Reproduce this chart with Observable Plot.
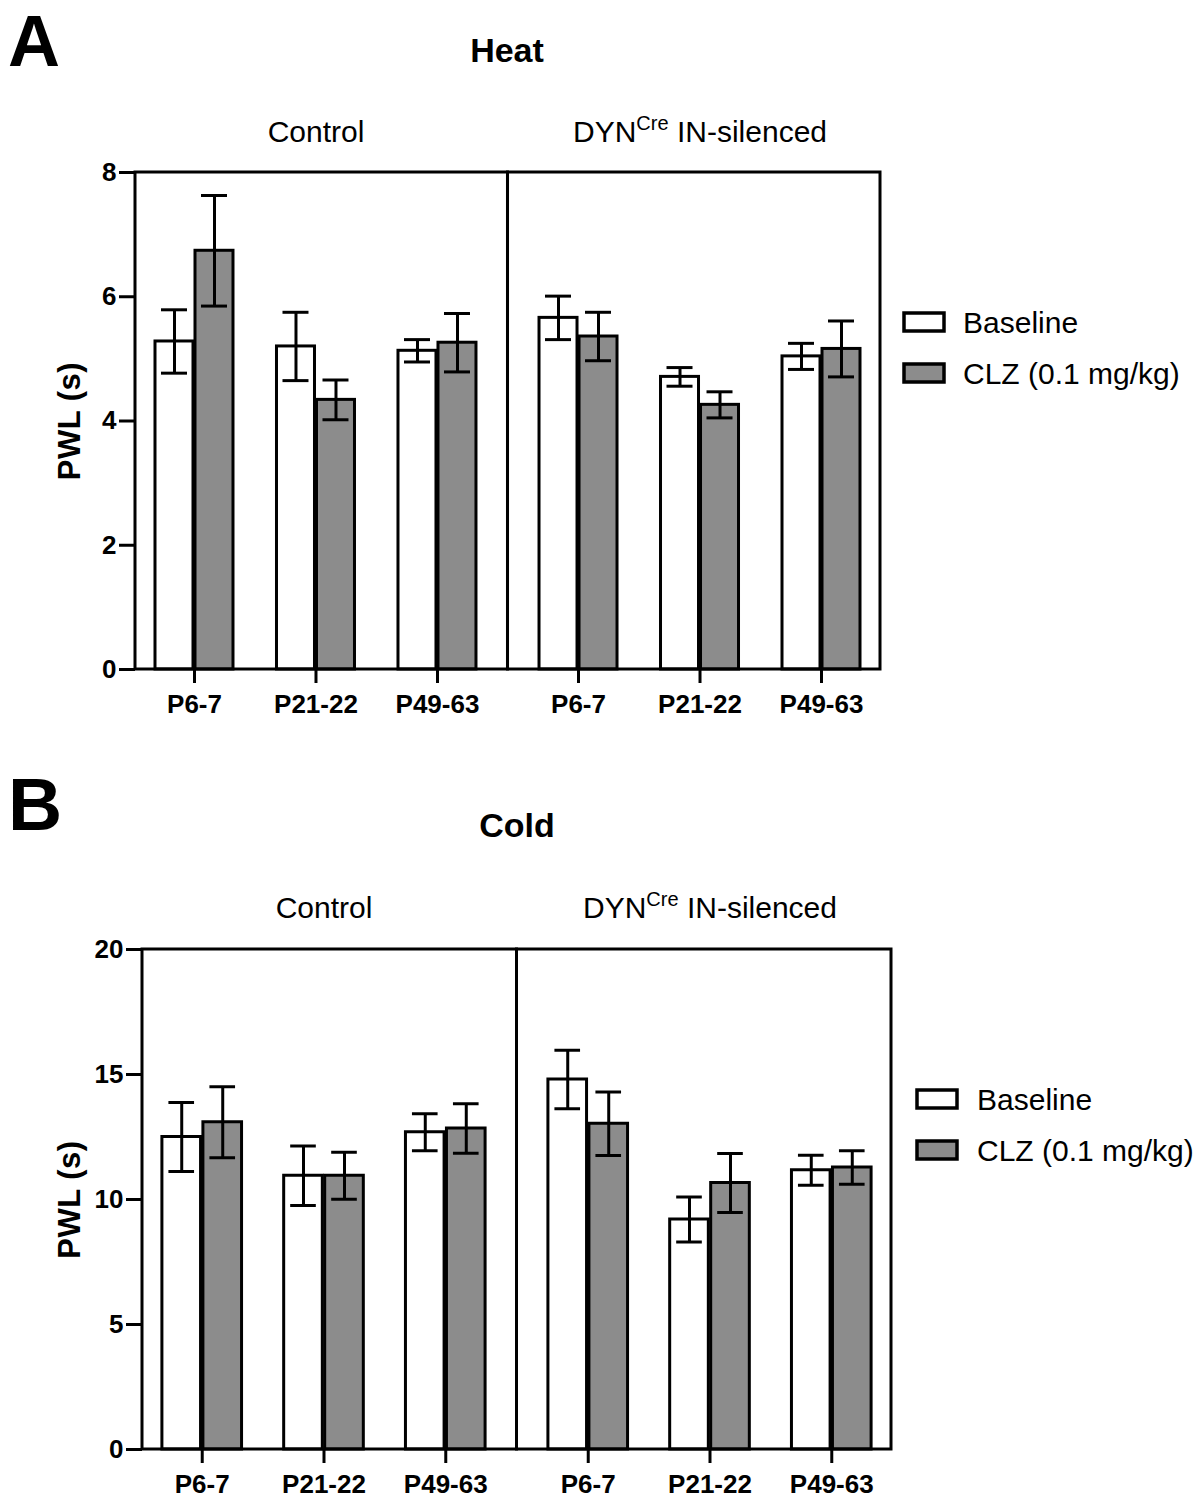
<!DOCTYPE html>
<html>
<head>
<meta charset="utf-8">
<script src="https://cdn.jsdelivr.net/npm/d3@7"></script>
<script src="https://cdn.jsdelivr.net/npm/@observablehq/plot@0.6"></script>
<style>
  html, body { margin: 0; padding: 0; background: #fff; }
  #page { position: relative; width: 1204px; height: 1500px; font-family: "Liberation Sans", Arial, sans-serif; }
  #page > svg { position: absolute; left: 0; }
</style>
</head>
<body>
<div id="page"></div>
<script>
// ---------- data ----------
const ages = ["P6-7", "P21-22", "P49-63"];
const genotypes = ["Control", "DYNCre IN-silenced"];
const treatments = ["Baseline", "CLZ (0.1 mg/kg)"];
const yLabel = "PWL (s)";

// Heat (PWL, s): means and SEM, per age
const heatControlBaseline    = [5.28, 5.20, 5.13];
const heatControlBaselineSem = [0.51, 0.55, 0.18];
const heatControlCLZ         = [6.74, 4.34, 5.26];
const heatControlCLZSem      = [0.89, 0.32, 0.47];
const heatDynBaseline        = [5.66, 4.71, 5.04];
const heatDynBaselineSem     = [0.35, 0.15, 0.21];
const heatDynCLZ             = [5.36, 4.26, 5.16];
const heatDynCLZSem          = [0.39, 0.21, 0.45];

// Cold (PWL, s)
const coldControlBaseline    = [12.50, 10.95, 12.69];
const coldControlBaselineSem = [1.38, 1.19, 0.74];
const coldControlCLZ         = [13.09, 10.95, 12.84];
const coldControlCLZSem      = [1.42, 0.94, 0.99];
const coldDynBaseline        = [14.80, 9.20, 11.17];
const coldDynBaselineSem     = [1.17, 0.90, 0.60];
const coldDynCLZ             = [13.03, 10.66, 11.28];
const coldDynCLZSem          = [1.27, 1.18, 0.67];

const heatTicks = [0, 2, 4, 6, 8];
const coldTicks = [0, 5, 10, 15, 20];

function rowsFor(series) {
  const rows = [];
  series.forEach(([geno, treat, means, sems]) => {
    means.forEach((m, i) => rows.push({
      geno, treat, age: ages[i], mean: m, sem: sems[i], lo: m - sems[i], hi: m + sems[i]
    }));
  });
  return rows;
}

const heatRows = rowsFor([
  [genotypes[0], treatments[0], heatControlBaseline, heatControlBaselineSem],
  [genotypes[0], treatments[1], heatControlCLZ, heatControlCLZSem],
  [genotypes[1], treatments[0], heatDynBaseline, heatDynBaselineSem],
  [genotypes[1], treatments[1], heatDynCLZ, heatDynCLZSem]
]);
const coldRows = rowsFor([
  [genotypes[0], treatments[0], coldControlBaseline, coldControlBaselineSem],
  [genotypes[0], treatments[1], coldControlCLZ, coldControlCLZSem],
  [genotypes[1], treatments[0], coldDynBaseline, coldDynBaselineSem],
  [genotypes[1], treatments[1], coldDynCLZ, coldDynCLZSem]
]);

const FONT = '"Liberation Sans", Arial, Helvetica, sans-serif';
const GREY = "#8c8c8c";

function panel(rows, cfg) {
  const base = rows.filter(d => d.treat === treatments[0]);
  const clz = rows.filter(d => d.treat === treatments[1]);
  const lw = 3;
  const svg = Plot.plot({
    width: 1204,
    height: cfg.height,
    marginTop: cfg.marginTop,
    marginBottom: cfg.marginBottom,
    marginLeft: cfg.marginLeft,
    marginRight: cfg.marginRight,
    style: {fontFamily: FONT, color: "black", background: "transparent", overflow: "visible"},
    fx: {domain: genotypes, paddingInner: cfg.fxPad, paddingOuter: 0, round: false},
    x: {domain: ages, paddingInner: cfg.xPadIn, paddingOuter: cfg.xPadOut, round: false},
    y: {domain: [0, cfg.yMax]},
    marks: [
      Plot.barY(base, {fx: "geno", x: "age", y: "mean", fill: "white", stroke: "black", strokeWidth: lw, insetRight: cfg.half}),
      Plot.barY(clz, {fx: "geno", x: "age", y: "mean", fill: GREY, stroke: "black", strokeWidth: lw, insetLeft: cfg.half}),
      Plot.ruleX(base, {fx: "geno", x: "age", y1: "lo", y2: "hi", dx: -cfg.dx, stroke: "black", strokeWidth: lw}),
      Plot.ruleX(clz, {fx: "geno", x: "age", y1: "lo", y2: "hi", dx: cfg.dx, stroke: "black", strokeWidth: lw}),
      Plot.tickY(base, {fx: "geno", x: "age", y: "hi", dx: -cfg.dx, insetLeft: cfg.cap, insetRight: cfg.cap, stroke: "black", strokeWidth: lw}),
      Plot.tickY(base, {fx: "geno", x: "age", y: "lo", dx: -cfg.dx, insetLeft: cfg.cap, insetRight: cfg.cap, stroke: "black", strokeWidth: lw}),
      Plot.tickY(clz, {fx: "geno", x: "age", y: "hi", dx: cfg.dx, insetLeft: cfg.cap, insetRight: cfg.cap, stroke: "black", strokeWidth: lw}),
      Plot.tickY(clz, {fx: "geno", x: "age", y: "lo", dx: cfg.dx, insetLeft: cfg.cap, insetRight: cfg.cap, stroke: "black", strokeWidth: lw}),
      Plot.rect([genotypes[0]], {fx: d => d, fill: "none", stroke: "black", strokeWidth: lw, insetRight: -cfg.halfGap}),
      Plot.rect([genotypes[1]], {fx: d => d, fill: "none", stroke: "black", strokeWidth: lw, insetLeft: -cfg.halfGap}),
      Plot.axisY({ticks: cfg.ticks, tickSize: 16, tickPadding: 3, strokeWidth: lw, fontSize: 26, fontWeight: "bold",
                  label: yLabel, labelArrow: "none", labelAnchor: "center", labelOffset: cfg.labelOffset}),
      Plot.axisX({tickSize: 14, tickPadding: cfg.xTickPadding, strokeWidth: lw, fontSize: 26, fontWeight: "bold", label: null}),
      Plot.axisFx({anchor: "top", tickSize: 0, tickPadding: cfg.fxPadding, fontSize: 30, label: null})
    ]
  });
  svg.style.top = cfg.top + "px";
  d3.select(svg).selectAll("text").each(function () {
    const t = d3.select(this);
    if (this.textContent === genotypes[1]) {
      // superscript "Cre"
      t.text(null);
      t.append("tspan").text("DYN");
      t.append("tspan").attr("dy", -12).attr("font-size", 20).text("Cre");
      t.append("tspan").attr("dy", 12).text(" IN-silenced");
    } else if (this.textContent.includes("PWL")) {
      t.text(yLabel).attr("font-size", 31).attr("font-weight", "bold").attr("letter-spacing", 0.5);
    }
  });
  return svg;
}

const page = document.getElementById("page");

page.appendChild(panel(heatRows, {
  top: 0, height: 740, marginTop: 172, marginBottom: 71, marginLeft: 135, marginRight: 324,
  fxPad: 0.06, halfGap: 11.5, xPadIn: 0.358, xPadOut: 0.1646, half: 40, dx: 20, cap: 26,
  yMax: 8, ticks: heatTicks, labelOffset: 78, fxPadding: 31, xTickPadding: 11
}));

page.appendChild(panel(coldRows, {
  top: 760, height: 740, marginTop: 189, marginBottom: 51, marginLeft: 142, marginRight: 313,
  fxPad: 0.0596, halfGap: 11.5, xPadIn: 0.346, xPadOut: 0.1635, half: 41, dx: 20.5, cap: 27,
  yMax: 20, ticks: coldTicks, labelOffset: 85, fxPadding: 32, xTickPadding: 11
}));

// ---------- overlay: panel letters, titles, legends ----------
const overlay = d3.create("svg")
  .attr("width", 1204).attr("height", 1500)
  .style("top", "0px").style("pointer-events", "none")
  .attr("font-family", FONT);

function txt(x, y, s, size, weight, anchor) {
  overlay.append("text").attr("x", x).attr("y", y).attr("font-size", size)
    .attr("font-weight", weight).attr("text-anchor", anchor || "start").attr("fill", "black").text(s);
}
txt(8, 66, "A", 72, "bold");
txt(507, 62, "Heat", 34, "bold", "middle");
txt(8, 830, "B", 75, "bold");
txt(517, 837, "Cold", 34, "bold", "middle");

function legend(x, y, textX) {
  const fills = ["white", GREY];
  treatments.forEach((t, i) => {
    const yy = y + i * 51;
    overlay.append("rect").attr("x", x).attr("y", yy - 9).attr("width", 40).attr("height", 18)
      .attr("fill", fills[i]).attr("stroke", "black").attr("stroke-width", 3.5);
    txt(textX, yy + 11, t, 30, "normal");
  });
}
legend(904, 322, 963);
legend(917, 1099, 977);

page.appendChild(overlay.node());
</script>
</body>
</html>
